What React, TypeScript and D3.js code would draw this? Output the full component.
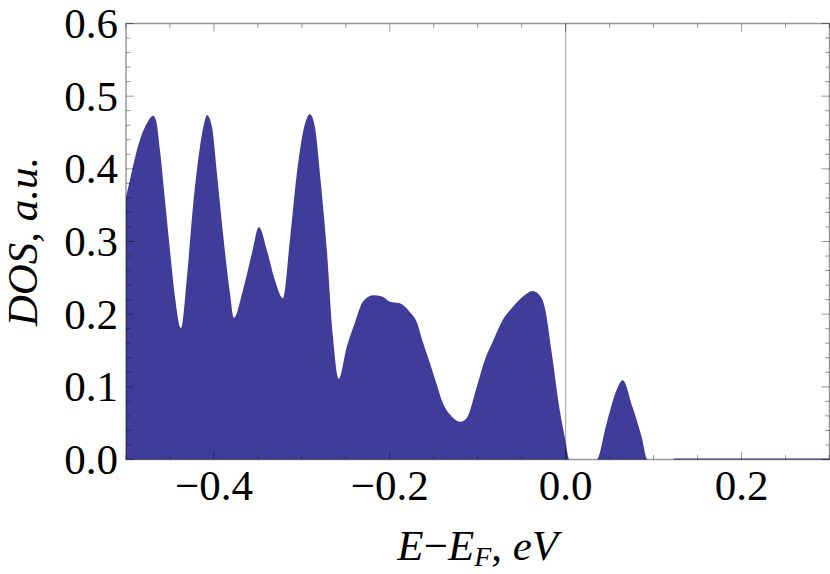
import React from "react";
import * as d3 from "d3";

// Energy (E - E_F, eV) and DOS (a.u.)
const energy = [
  -0.5, -0.4955, -0.4898, -0.4841, -0.4761, -0.4693, -0.4659, -0.4614, -0.4557, -0.45, -0.4443, -0.4375,
  -0.4307, -0.4239, -0.4159, -0.4102, -0.408, -0.4023, -0.3966, -0.3898, -0.3818, -0.3773,
  -0.367, -0.3568, -0.3489, -0.3398, -0.3307, -0.3216,
  -0.3136, -0.3057, -0.2989, -0.2909, -0.2852, -0.2795, -0.2716, -0.2648, -0.258,
  -0.2489, -0.2398, -0.2307, -0.2193, -0.208, -0.2, -0.1886, -0.1773, -0.1693, -0.1625, -0.1545,
  -0.1466, -0.1398, -0.1295, -0.1193, -0.1125, -0.1011, -0.092, -0.083, -0.0716, -0.0602, -0.0489,
  -0.0375, -0.0273, -0.0239, -0.0159, -0.0068, -0.0011, 0.0045,
  0.02, 0.0352, 0.0466, 0.058, 0.0648, 0.0761, 0.0864, 0.0932,
  0.11, 0.1225, 0.123, 0.2, 0.3,
];
const dos = [
  0.361, 0.385, 0.415, 0.44, 0.463, 0.473, 0.467, 0.426, 0.357, 0.288, 0.224, 0.181,
  0.251, 0.347, 0.43, 0.467, 0.474, 0.458, 0.394, 0.312, 0.229, 0.195,
  0.233, 0.284, 0.32, 0.288, 0.247, 0.222,
  0.302, 0.394, 0.449, 0.475, 0.458, 0.394, 0.288, 0.171, 0.111,
  0.155, 0.188, 0.217, 0.226, 0.224, 0.217, 0.215, 0.203, 0.189, 0.162, 0.133,
  0.103, 0.078, 0.059, 0.052, 0.057, 0.1, 0.137, 0.162, 0.192, 0.21, 0.224,
  0.232, 0.222, 0.21, 0.147, 0.068, 0.031, 0,
  0, 0, 0.05, 0.096, 0.109, 0.072, 0.031, 0,
  0, 0, 0.0013, 0.0013, 0.0013,
];

const xTickLabels = [-0.4, -0.2, 0.0, 0.2];
const yTickLabels = [0.0, 0.1, 0.2, 0.3, 0.4, 0.5, 0.6];

const W = 830;
const H = 574;
const FILL = "#3f3d99";
const FRAME = "rgba(0,0,0,0.4)";
const FONT = "'Liberation Serif', 'Times New Roman', 'DejaVu Serif', serif";

export default function App() {
  const x = d3.scaleLinear().domain([-0.5, 0.3]).range([126, 829.5]);
  const y = d3.scaleLinear().domain([0, 0.6]).range([459.5, 23.5]);
  const [x0, x1] = x.range();
  const [yb, yt] = y.range();

  const pts = energy.map((e, i) => [e, dos[i]] as [number, number]);
  const area = d3
    .area<[number, number]>()
    .x((d) => x(d[0]))
    .y0(y(0))
    .y1((d) => y(d[1]))
    .curve(d3.curveMonotoneX)(pts) as string;

  const xMinor = d3.range(-0.5, 0.3001, 0.05).map((v) => +v.toFixed(3));
  const yMinor = d3.range(0, 0.6001, 0.02).map((v) => +v.toFixed(3));
  const isMajorX = (v: number) => xTickLabels.some((t) => Math.abs(t - v) < 1e-6);
  const isMajorY = (v: number) => Math.abs(Math.round(v * 10) - v * 10) < 1e-6;

  const fmt = (v: number) => {
    const s = Math.abs(v).toFixed(1);
    return v < -1e-9 ? "\u2212" + s : s;
  };

  return (
    <svg width={W} height={H} style={{ position: "absolute", left: 0, top: 0, background: "#fff" }}>
      <path d={area} fill={FILL} stroke="none" />

      {/* zero line */}
      <line x1={x(0)} x2={x(0)} y1={yt} y2={yb} stroke={FRAME} strokeWidth={1} />

      {/* ticks */}
      {xMinor.map((v) => {
        const len = isMajorX(v) ? 8 : 4.5;
        const px = x(v);
        return (
          <g key={"xt" + v}>
            <line x1={px} x2={px} y1={yb} y2={yb - len} stroke={FRAME} strokeWidth={1} />
            <line x1={px} x2={px} y1={yt} y2={yt + len} stroke={FRAME} strokeWidth={1} />
          </g>
        );
      })}
      {yMinor.map((v) => {
        const len = isMajorY(v) ? 8 : 4.5;
        const py = y(v);
        return (
          <g key={"yt" + v}>
            <line x1={x0} x2={x0 + len} y1={py} y2={py} stroke={FRAME} strokeWidth={1} />
            <line x1={x1} x2={x1 - len} y1={py} y2={py} stroke={FRAME} strokeWidth={1} />
          </g>
        );
      })}

      {/* frame */}
      <rect x={x0} y={yt} width={x1 - x0} height={yb - yt} fill="none" stroke={FRAME} strokeWidth={1.5} />

      {/* tick labels */}
      {xTickLabels.map((v) => (
        <text key={"xl" + v} x={x(v)} y={500} textAnchor="middle" fontFamily={FONT} fontSize={43} fill="#000">
          {fmt(v)}
        </text>
      ))}
      {yTickLabels.map((v) => (
        <text key={"yl" + v} x={118} y={y(v) + 14.5} textAnchor="end" fontFamily={FONT} fontSize={43} fill="#000">
          {fmt(v)}
        </text>
      ))}

      {/* axis labels */}
      <text x={(x0 + x1) / 2} y={560} textAnchor="middle" fontFamily={FONT} fontSize={43} fill="#000">
        <tspan fontStyle="italic">E</tspan>
        <tspan>{"\u2212"}</tspan>
        <tspan fontStyle="italic">E</tspan>
        <tspan fontStyle="italic" fontSize={28} dy={6}>F</tspan>
        <tspan dy={-6}>, </tspan>
        <tspan fontStyle="italic">eV</tspan>
      </text>
      <text
        transform={`translate(37, ${(yt + yb) / 2}) rotate(-90)`}
        textAnchor="middle"
        fontFamily={FONT}
        fontSize={43}
        fontStyle="italic"
        fill="#000"
      >
        DOS, a.u.
      </text>
    </svg>
  );
}
